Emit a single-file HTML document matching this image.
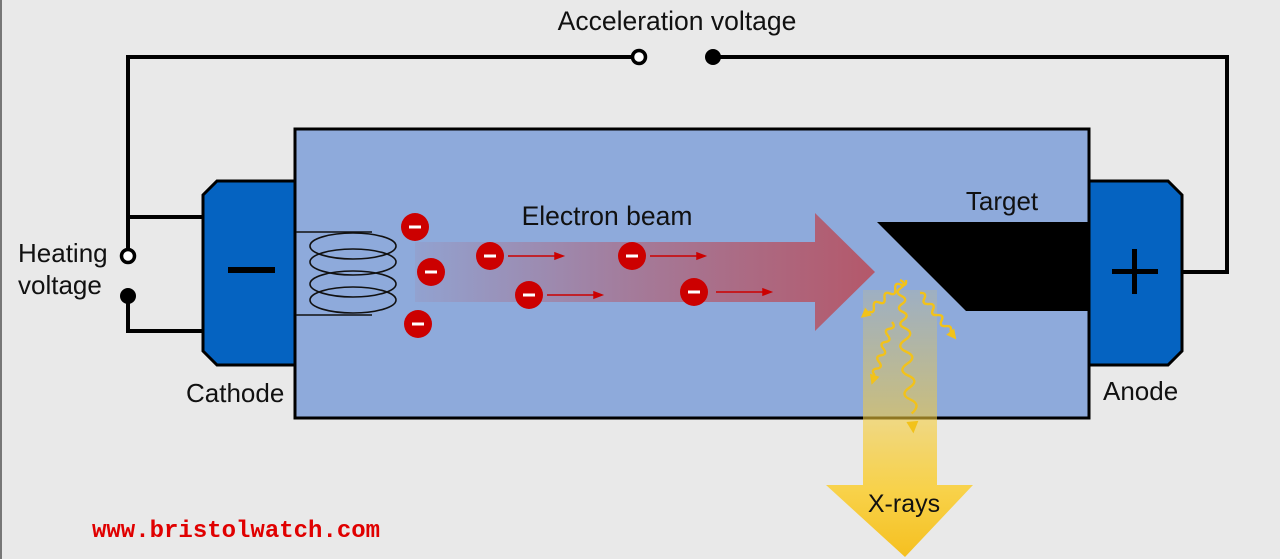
<!DOCTYPE html>
<html><head><meta charset="utf-8"><style>
html,body{margin:0;padding:0;background:#e9e9e9;}
svg{display:block;font-family:"Liberation Sans",Arial,sans-serif;}
</style></head><body>
<svg width="1280" height="559" viewBox="0 0 1280 559">
<defs>
<linearGradient id="beam" x1="415" y1="0" x2="875" y2="0" gradientUnits="userSpaceOnUse">
<stop offset="0" stop-color="#b4586a" stop-opacity="0.1"/>
<stop offset="0.5" stop-color="#b4586a" stop-opacity="0.6"/>
<stop offset="1" stop-color="#b4586a" stop-opacity="1"/>
</linearGradient>
<linearGradient id="xr" x1="0" y1="290" x2="0" y2="557" gradientUnits="userSpaceOnUse">
<stop offset="0" stop-color="#f5cc3a" stop-opacity="0.15"/>
<stop offset="0.5" stop-color="#f5cc3a" stop-opacity="0.6"/>
<stop offset="0.75" stop-color="#f8d24a" stop-opacity="1"/>
<stop offset="1" stop-color="#f5c020" stop-opacity="1"/>
</linearGradient>
</defs>
<rect width="1280" height="559" fill="#e9e9e9"/>
<rect x="0" y="0" width="2" height="559" fill="#777"/>
<g fill="none" stroke="#000" stroke-width="4">
<polyline points="128,296 128,331 203,331"/>
<polyline points="203,217 128,217 128,57 633,57"/>
<polyline points="718,57 1227,57 1227,272 1182,272"/>
<line x1="128" y1="217" x2="128" y2="250"/>
</g>
<circle cx="639" cy="57" r="6.5" fill="#fff" stroke="#000" stroke-width="3.5"/>
<circle cx="713" cy="57" r="8" fill="#000"/>
<circle cx="128" cy="256" r="6.5" fill="#fff" stroke="#000" stroke-width="3.5"/>
<circle cx="128" cy="296" r="8" fill="#000"/>
<text x="677" y="30" font-size="26.5" text-anchor="middle" fill="#111">Acceleration voltage</text>
<text x="18" y="262" font-size="26" fill="#111">Heating</text>
<text x="18" y="294" font-size="26" fill="#111">voltage</text>
<rect x="295" y="129" width="794" height="289" fill="#8eaadb" stroke="#000" stroke-width="3"/>
<polygon points="217,181 295,181 295,365 217,365 203,351 203,195" fill="#0563c1" stroke="#000" stroke-width="3"/>
<rect x="228" y="267" width="47" height="6" fill="#000"/>
<polygon points="1089,181 1168,181 1182,195 1182,351 1168,365 1089,365" fill="#0563c1" stroke="#000" stroke-width="3"/>
<rect x="1112" y="269" width="46" height="5" fill="#000"/>
<rect x="1132" y="249" width="5" height="45" fill="#000"/>
<text x="186" y="402" font-size="26" fill="#111">Cathode</text>
<text x="1103" y="400" font-size="26" fill="#111">Anode</text>
<g fill="none" stroke="#111" stroke-width="1.6">
<line x1="296" y1="232" x2="372" y2="232"/>
<line x1="296" y1="315" x2="372" y2="315"/>
<ellipse cx="353" cy="246" rx="43" ry="13"/>
<ellipse cx="353" cy="262" rx="43" ry="13"/>
<ellipse cx="353" cy="284" rx="43" ry="13"/>
<ellipse cx="353" cy="300" rx="43" ry="13"/>
</g>
<polygon points="415,242 815,242 815,213 875,272 815,331 815,302 415,302" fill="url(#beam)"/>
<text x="607" y="225" font-size="26.5" text-anchor="middle" fill="#111">Electron beam</text>
<polygon points="877,222 1089,222 1089,311 966,311" fill="#000"/>
<text x="1002" y="210" font-size="26" text-anchor="middle" fill="#111">Target</text>
<g fill="#cc0000">
<circle cx="415" cy="227" r="14"/><circle cx="431" cy="272" r="14"/><circle cx="418" cy="324" r="14"/>
<circle cx="490" cy="256" r="14"/><circle cx="529" cy="295" r="14"/><circle cx="632" cy="256" r="14"/><circle cx="694" cy="292" r="14"/>
</g>
<g stroke="#fff" stroke-width="3">
<line x1="409" y1="227" x2="421" y2="227"/><line x1="425" y1="272" x2="437" y2="272"/><line x1="412" y1="324" x2="424" y2="324"/>
<line x1="484" y1="256" x2="496" y2="256"/><line x1="523" y1="295" x2="535" y2="295"/><line x1="626" y1="256" x2="638" y2="256"/><line x1="688" y1="292" x2="700" y2="292"/>
</g>
<g stroke="#c00" stroke-width="1.5" fill="#c00">
<line x1="508" y1="256" x2="558" y2="256"/><polygon points="563,256 555,253 555,259"/>
<line x1="547" y1="295" x2="597" y2="295"/><polygon points="602,295 594,292 594,298"/>
<line x1="650" y1="256" x2="700" y2="256"/><polygon points="705,256 697,253 697,259"/>
<line x1="716" y1="292" x2="766" y2="292"/><polygon points="771,292 763,289 763,295"/>
</g>
<polygon points="863,290 937,290 937,485 973,485 905,557 826,485 863,485" fill="url(#xr)"/>
<text x="904" y="512" font-size="25" text-anchor="middle" fill="#111">X-rays</text>
<g fill="none" stroke="#f2c21a" stroke-width="2.4">
<!-- main -->
<g transform="translate(900,280) rotate(-5)">
<path d="M0,0 q7,4 0,8 t0,8 t0,8 t0,8 t0,8 t0,8 q11,6 0,12 t0,12 t0,12 t0,12 t0,12 t0,12 t0,14"/>
<polygon points="-6,142 6,142 0,154" fill="#f2c21a" stroke="none"/>
</g>
<!-- up-left -->
<g transform="translate(906,280) rotate(50)">
<path d="M0,0 q6,4 0,7 t0,7 t0,7 t0,7 t0,7 t0,7 t0,7"/>
<polygon points="-5,49 5,49 0,59" fill="#f2c21a" stroke="none"/>
</g>
<!-- lower left -->
<g transform="translate(892,322) rotate(18)">
<path d="M0,0 q6,4 0,7 t0,7 t0,7 t0,7 t0,7 t0,7 t0,7 t0,7"/>
<polygon points="-5,56 5,56 0,66" fill="#f2c21a" stroke="none"/>
</g>
<!-- right -->
<g transform="translate(920,293) rotate(-38)">
<path d="M0,0 q6,4 0,7 t0,7 t0,7 t0,7 t0,7 t0,7 t0,7"/>
<polygon points="-5,49 5,49 0,59" fill="#f2c21a" stroke="none"/>
</g>
</g>
<text x="92" y="537" font-size="24" font-weight="bold" fill="#e00000" font-family="Liberation Mono,monospace">www.bristolwatch.com</text>
</svg>
</body></html>
